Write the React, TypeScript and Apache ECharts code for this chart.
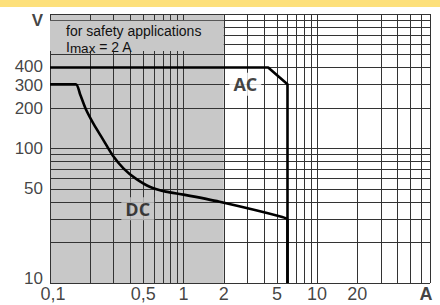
import React, { useEffect, useRef } from "react";
import * as echarts from "echarts";

// grid lines (log paper)
const xGridValues = [0.1, 0.2, 0.3, 0.4, 0.5, 0.6, 0.7, 0.8, 0.9, 1, 2, 3, 4, 5, 6, 7, 8, 9, 10, 20, 30, 40, 50, 60, 70];
const yGridValues = [10, 20, 30, 40, 50, 60, 70, 80, 90, 100, 200, 300, 400, 500, 600, 700, 800, 900, 1000];

// tick labels
const xTickValues = [0.1, 0.5, 1, 2, 5, 10, 20, 70];
const xTickLabels = ["0,1", "0,5", "1", "2", "5", "10", "20", "A"];
const yTickValues = [10, 50, 100, 200, 300, 400, 1000];
const yTickLabels = ["10", "50", "100", "200", "300", "400", "V"];

// curves
const acCurrent = [0.1, 4.3, 6, 6];
const acVoltage = [400, 400, 300, 10];
const dcCurrent = [0.1, 0.156, 0.168, 0.186, 0.213, 0.249, 0.295, 0.356, 0.439, 0.557, 0.735, 1.0, 1.86, 5.48, 6, 6];
const dcVoltage = [300, 300, 253, 195, 151, 117, 88.7, 70.9, 59.7, 52.0, 47.8, 45.4, 40.2, 31, 29.5, 10];

// regions
const shadedCurrent = [0.1, 2];
const fullVoltage = [10, 1000];
const noteVoltage = [530, 890];

// curve names and where they are written
const curveNames = ["AC", "DC"];
const curveNameCurrent = [2.9, 0.454];
const curveNameVoltage = [300, 35.7];

const FONT = "'Open Sans', 'Noto Sans', sans-serif";
const TICK_FONT = "'Liberation Sans', Arial, sans-serif";
const GRAY = "#c8c8c8";

export default function App() {
  const ref = useRef<HTMLDivElement>(null);
  useEffect(() => {
    document.body.style.margin = "0";
    const chart = echarts.init(ref.current!, null, { renderer: "svg" });
    const gridLineStyle = { color: "#333333", width: 1, type: "solid" as const };
    const yOffset = (label: string, i: number) =>
      label === "V" ? 6 : i === 0 ? -5 : label === "400" ? -1.5 : label === "300" ? 1.5 : 0;
    chart.setOption({
      animation: false,
      backgroundColor: "#ffffff",
      textStyle: { fontFamily: FONT },
      grid: { left: 50, right: 10, top: 14, bottom: 22, containLabel: false },
      graphic: [
        { type: "rect", left: 0, top: 0, shape: { width: 440, height: 7 }, style: { fill: "#fde07b" }, silent: true },
      ],
      xAxis: {
        type: "log", logBase: 10, min: 0.1, max: 70,
        axisLine: { show: false }, axisTick: { show: false }, axisLabel: { show: false }, splitLine: { show: false },
      },
      yAxis: {
        type: "log", logBase: 10, min: 10, max: 1000,
        axisLine: { show: false }, axisTick: { show: false }, axisLabel: { show: false }, splitLine: { show: false },
      },
      series: [
        {
          type: "line", data: [[0.1, 10]], showSymbol: false, silent: true, z: 1,
          lineStyle: { opacity: 0 },
          markArea: {
            silent: true, z: 1,
            itemStyle: { color: GRAY },
            data: [[{ xAxis: shadedCurrent[0], yAxis: fullVoltage[0] }, { xAxis: shadedCurrent[1], yAxis: fullVoltage[1] }]],
          },
        },
        {
          type: "line", data: [[0.1, 10]], showSymbol: false, silent: true, z: 2,
          lineStyle: { opacity: 0 },
          markLine: {
            silent: true, z: 2, symbol: ["none", "none"], label: { show: false },
            lineStyle: gridLineStyle,
            data: [
              ...xGridValues.map((v) => ({ xAxis: v })),
              ...yGridValues.map((v) => ({ yAxis: v })),
            ],
          },
        },
        {
          type: "line", data: [[0.1, 10]], showSymbol: false, silent: true, z: 3,
          lineStyle: { opacity: 0 },
          markArea: {
            silent: true, z: 3,
            itemStyle: { color: GRAY },
            label: {
              show: true, position: "insideTopLeft", offset: [11, -3],
              color: "#111", fontFamily: TICK_FONT, fontSize: 14, lineHeight: 16,
              formatter: "for safety applications\nI{sub|max} = 2 A",
              rich: { sub: { fontSize: 13.5, lineHeight: 16, fontFamily: TICK_FONT, color: "#111", padding: [4, 0, 0, 0] } },
            },
            data: [[{ xAxis: shadedCurrent[0], yAxis: noteVoltage[0] }, { xAxis: shadedCurrent[1], yAxis: noteVoltage[1] }]],
          },
        },
        {
          name: "AC", type: "line", z: 4, showSymbol: false, silent: true,
          lineStyle: { color: "#000", width: 2.6 },
          data: acCurrent.map((c, i) => [c, acVoltage[i]]),
        },
        {
          name: "DC", type: "line", z: 4, showSymbol: false, silent: true, smooth: 0.25,
          lineStyle: { color: "#000", width: 2.6 },
          data: dcCurrent.map((c, i) => [c, dcVoltage[i]]),
        },
        {
          type: "scatter", z: 5, silent: true, symbolSize: 0,
          data: curveNames.map((n, i) => ({
            value: [curveNameCurrent[i], curveNameVoltage[i]],
            label: {
              show: true, position: "inside", formatter: n,
              fontFamily: FONT, fontWeight: "bold", fontSize: 18, color: "#111",
              backgroundColor: i === 0 ? "#ffffff" : GRAY, padding: [3, 4, 2, 4],
            },
          })),
        },
        {
          type: "scatter", z: 5, silent: true, symbolSize: 0,
          data: xTickValues.map((v, i) => ({
            value: [v, fullVoltage[0]],
            label: {
              show: true, position: "bottom", distance: 3, formatter: xTickLabels[i],
              fontFamily: TICK_FONT, fontSize: 18, lineHeight: 16, color: "#111",
              fontWeight: xTickLabels[i] === "A" ? "bold" : "normal",
              offset: [xTickLabels[i] === "A" ? -4 : i === 0 ? 3 : 0, 0],
            },
          })),
        },
        {
          type: "scatter", z: 5, silent: true, symbolSize: 0,
          data: yTickValues.map((v, i) => ({
            value: [shadedCurrent[0], v],
            label: {
              show: true, position: "left", distance: 7, formatter: yTickLabels[i],
              fontFamily: TICK_FONT, fontSize: 17, lineHeight: 15, color: "#111",
              fontWeight: yTickLabels[i] === "V" ? "bold" : "normal",
              offset: [0, yOffset(yTickLabels[i], i)],
            },
          })),
        },
      ],
    });
    return () => chart.dispose();
  }, []);
  return <div ref={ref} style={{ width: 440, height: 305 }} />;
}
